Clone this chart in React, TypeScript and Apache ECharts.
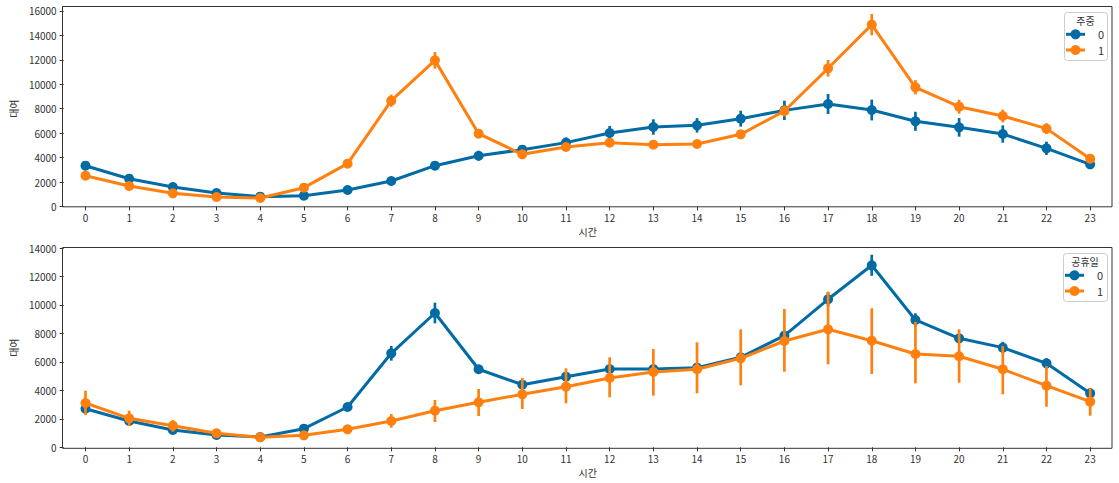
import React, { useEffect, useRef } from "react";
import * as echarts from "echarts";

const hours = ["0","1","2","3","4","5","6","7","8","9","10","11","12","13","14","15","16","17","18","19","20","21","22","23"];

// Top panel: hue 주중 (0 / 1)
const topMean0 = [3333,2270,1590,1100,800,880,1345,2080,3333,4150,4645,5220,6010,6500,6635,7180,7860,8380,7890,6965,6470,5925,4755,3445];
const topLow0 = [3083,2090,1460,1010,740,800,1225,1900,3083,3750,4290,4785,5440,5870,6045,6530,7070,7560,7040,6185,5710,5215,4210,3195];
const topHigh0 = [3583,2450,1720,1190,860,960,1465,2260,3583,4550,5000,5655,6580,7130,7225,7830,8650,9200,8740,7745,7230,6635,5300,3695];
const topMean1 = [2515,1673,1075,773,690,1535,3500,8650,11950,5955,4265,4860,5220,5055,5110,5900,7810,11300,14870,9745,8160,7400,6365,3910];
const topLow1 = [2315,1523,975,703,630,1385,3250,8150,11270,5655,4015,4610,4940,4805,4860,5600,7360,10620,14000,9155,7590,6880,5925,3660];
const topHigh1 = [2715,1823,1175,843,750,1685,3750,9150,12630,6255,4515,5110,5500,5305,5360,6200,8260,11980,15740,10335,8730,7920,6805,4160];

// Bottom panel: hue 공휴일 (0 / 1)
const botMean0 = [2712,1848,1215,865,724,1307,2830,6603,9435,5480,4400,4960,5500,5500,5595,6320,7840,10397,12785,8943,7657,7000,5900,3793];
const botLow0 = [2462,1668,1095,785,664,1187,2630,6088,8710,5230,4100,4660,5200,5200,5295,5970,7440,9897,12045,8473,7357,6590,5550,3443];
const botHigh0 = [2962,2028,1335,945,784,1427,3030,7118,10160,5730,4700,5260,5800,5800,5895,6670,8240,10897,13525,9413,7957,7410,6250,4143];
const botMean1 = [3112,2037,1517,983,700,843,1264,1848,2571,3161,3723,4257,4868,5290,5480,6252,7467,8289,7488,6554,6393,5480,4327,3203];
const botLow1 = [2269,1496,1096,820,600,700,980,1377,1777,2199,2690,3091,3512,3625,3793,4355,5311,5831,5149,4496,4538,3723,2852,2220];
const botHigh1 = [3976,2571,1918,1150,800,1000,1550,2340,3323,4096,4868,5550,6322,6905,7376,8289,9715,10931,9765,8823,8289,7116,5711,4145];

const topTicks = { min: 0, max: 16000, interval: 2000 };
const botTicks = { min: 0, max: 14000, interval: 2000 };
const legendLabels = ["0", "1"];
const titles = { top: "주중", bottom: "공휴일", x: "시간", y: "대여" };

const BLUE = "#006BA4";
const ORANGE = "#FF800E";
const FONT = "Noto Sans CJK KR";
const TXT = "#333";

function ciSeries(name: string, gi: number, low: number[], high: number[], color: string, z: number) {
  return {
    name,
    type: "custom",
    xAxisIndex: gi,
    yAxisIndex: gi,
    z,
    clip: false,
    silent: true,
    data: low.map((l, i) => [i, l, high[i]]),
    encode: { x: 0, y: [1, 2] },
    renderItem: (params: any, api: any) => {
      const x = api.value(0);
      const a = api.coord([x, api.value(1)]);
      const b = api.coord([x, api.value(2)]);
      return {
        type: "line",
        shape: { x1: a[0], y1: a[1], x2: b[0], y2: b[1] },
        style: { stroke: color, lineWidth: 2.7 },
      };
    },
  };
}

function lineSeries(name: string, gi: number, vals: number[], color: string, z: number) {
  return {
    name,
    type: "line",
    xAxisIndex: gi,
    yAxisIndex: gi,
    z,
    clip: false,
    data: vals,
    symbol: "circle",
    symbolSize: 10,
    itemStyle: { color },
    lineStyle: { color, width: 3 },
  };
}

function legendGraphic(x: number, y: number, w: number, h: number, title: string, rowYs: number[]) {
  const els: any[] = [
    {
      type: "rect",
      shape: { x: x + 0.5, y: y + 0.5, width: w, height: h, r: 3 },
      style: { fill: "rgba(255,255,255,0.8)", stroke: "#cccccc", lineWidth: 1 },
      z: 100,
    },
    {
      type: "text",
      x: x + w / 2,
      y: y + 8.5,
      style: { text: title, fill: TXT, font: `10px "${FONT}"`, align: "center", verticalAlign: "middle" },
      z: 101,
    },
  ];
  const colors = [BLUE, ORANGE];
  rowYs.forEach((ry, i) => {
    els.push({
      type: "line",
      shape: { x1: x + 2, y1: ry, x2: x + 21, y2: ry },
      style: { stroke: colors[i], lineWidth: 3 },
      z: 101,
    });
    els.push({
      type: "circle",
      shape: { cx: x + 11.5, cy: ry, r: 5 },
      style: { fill: colors[i] },
      z: 102,
    });
    els.push({
      type: "text",
      x: x + 34,
      y: ry,
      style: { text: legendLabels[i], fill: TXT, font: `11px "${FONT}"`, align: "left", verticalAlign: "middle" },
      z: 101,
    });
  });
  return els;
}

export default function App() {
  const ref = useRef<HTMLDivElement>(null);
  useEffect(() => {
    if (!ref.current) return;
    const chart = echarts.init(ref.current, null, { renderer: "svg" });
    const axisLabel = { color: TXT, fontSize: 10, fontFamily: FONT };
    const mkX = (gi: number) => ({
      type: "category",
      gridIndex: gi,
      data: hours,
      boundaryGap: true,
      axisLine: { show: false },
      axisTick: { show: true, alignWithLabel: true, length: 4, lineStyle: { color: TXT } },
      axisLabel: { ...axisLabel, margin: 6 },
      splitLine: { show: false },
      name: titles.x,
      nameLocation: "middle",
      nameGap: 20,
      nameTextStyle: { color: TXT, fontSize: 10, fontFamily: FONT },
    });
    const mkY = (gi: number, t: { min: number; max: number; interval: number }) => ({
      type: "value",
      gridIndex: gi,
      min: t.min,
      max: t.max,
      interval: t.interval,
      axisLine: { show: false },
      axisTick: { show: true, length: 4, lineStyle: { color: TXT } },
      axisLabel: { ...axisLabel, margin: 7, formatter: (v: number) => String(v) },
      splitLine: { show: false },
      name: titles.y,
      nameLocation: "middle",
      nameGap: 44,
      nameRotate: 90,
      nameTextStyle: { color: TXT, fontSize: 10, fontFamily: FONT },
    });
    chart.setOption({
      animation: false,
      backgroundColor: "#fff",
      textStyle: { fontFamily: FONT },
      grid: [
        { left: 62, width: 1050, top: 10.85, height: 195.6, containLabel: false },
        { left: 62, width: 1050, top: 248, height: 199.3, containLabel: false },
      ],
      xAxis: [mkX(0), mkX(1)],
      yAxis: [mkY(0, topTicks), mkY(1, botTicks)],
      series: [
        ciSeries("0 ci", 0, topLow0, topHigh0, BLUE, 2),
        lineSeries("0", 0, topMean0, BLUE, 3),
        ciSeries("1 ci", 0, topLow1, topHigh1, ORANGE, 4),
        lineSeries("1", 0, topMean1, ORANGE, 5),
        ciSeries("0 ci b", 1, botLow0, botHigh0, BLUE, 2),
        lineSeries("0", 1, botMean0, BLUE, 3),
        ciSeries("1 ci b", 1, botLow1, botHigh1, ORANGE, 4),
        lineSeries("1", 1, botMean1, ORANGE, 5),
      ],
      graphic: [
        {
          type: "rect",
          shape: { x: 62.5, y: 6.5, width: 1049.5, height: 200.3 },
          style: { fill: "none", stroke: TXT, lineWidth: 1 },
          z: 50,
          silent: true,
        },
        {
          type: "rect",
          shape: { x: 62.5, y: 247.5, width: 1049.5, height: 200.8 },
          style: { fill: "none", stroke: TXT, lineWidth: 1 },
          z: 50,
          silent: true,
        },
        ...legendGraphic(1064, 12, 43, 48, titles.top, [34.3, 50]),
        ...legendGraphic(1063, 253, 44, 48, titles.bottom, [275.3, 291]),
      ],
    });
    return () => chart.dispose();
  }, []);
  return (
    <div
      ref={ref}
      style={{ position: "absolute", left: 0, top: 0, width: 1119, height: 483 }}
    />
  );
}
